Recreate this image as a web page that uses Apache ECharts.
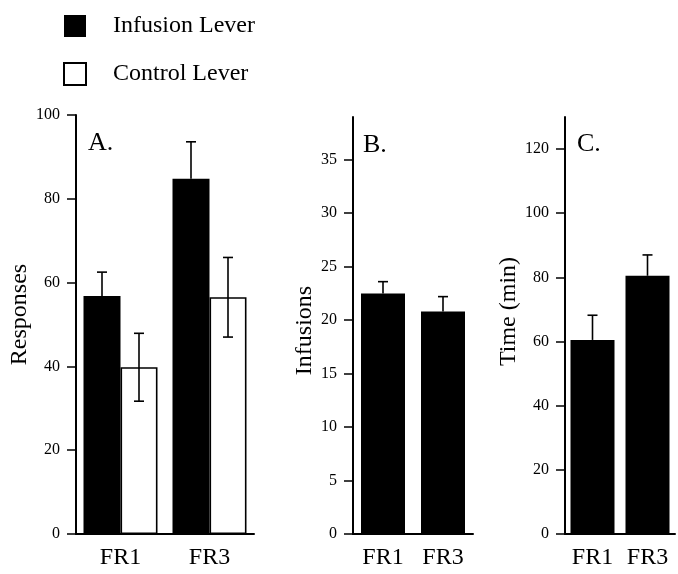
<!DOCTYPE html>
<html>
<head>
<meta charset="utf-8">
<title>Responses, infusions and time</title>
<script src="https://cdn.jsdelivr.net/npm/echarts@6/dist/echarts.min.js"></script>
<style>
  html, body { margin: 0; padding: 0; background: #fff; }
  #chart { width: 678px; height: 574px; }
</style>
</head>
<body>
<div id="chart"></div>
<script>
// categories
const categories = ["FR1", "FR3"];

// panel A: lever responses (mean, SEM)
const respInfusion = [56.8, 84.8];
const respInfusionErr = [5.7, 8.8];
const respControl = [39.8, 56.5];
const respControlErr = [8.1, 9.5];

// panel B: infusions
const infusions = [22.5, 20.8];
const infusionsErr = [1.1, 1.4];

// panel C: time (min)
const timeMin = [60.5, 80.5];
const timeErr = [7.7, 6.5];

// tick labels
const ticksA = [0, 20, 40, 60, 80, 100];
const ticksB = [0, 5, 10, 15, 20, 25, 30, 35];
const ticksC = [0, 20, 40, 60, 80, 100, 120];

const FONT = "Liberation Serif";
const barA = 37;
const barBC = 44;

const chart = echarts.init(document.getElementById("chart"));

// turn value + err arrays into custom series rows
function errRows(vals, errs) {
  return vals.map((v, i) => [i, v, errs[i]]);
}

// error bar: offset in px from category centre, lower half optional
function errorBar(offset, both) {
  return function (params, api) {
    const i = api.value(0);
    const v = api.value(1);
    const e = api.value(2);
    const top = api.coord([i, v + e]);
    const bot = api.coord([i, both ? v - e : v]);
    const x = top[0] + offset;
    const cap = 5;
    const style = { stroke: "#000", lineWidth: 1.6 };
    const kids = [
      { type: "line", shape: { x1: x, y1: top[1], x2: x, y2: bot[1] }, style },
      { type: "line", shape: { x1: x - cap, y1: top[1], x2: x + cap, y2: top[1] }, style },
    ];
    if (both) {
      kids.push({ type: "line", shape: { x1: x - cap, y1: bot[1], x2: x + cap, y2: bot[1] }, style });
    }
    return { type: "group", children: kids };
  };
}

function xAx(idx) {
  return {
    type: "category",
    gridIndex: idx,
    data: categories,
    axisLine: { lineStyle: { color: "#000", width: 2 } },
    axisTick: { alignWithLabel: true, length: 12, lineStyle: { color: "#000", width: 2 } },
    axisLabel: { color: "#000", fontFamily: FONT, fontSize: 24, margin: 12 },
  };
}

function yAx(idx, max, ticks, name, gap, namePad) {
  return {
    type: "value",
    gridIndex: idx,
    min: 0,
    max: max,
    name: name,
    nameLocation: "middle",
    nameGap: gap,
    nameTextStyle: { color: "#000", fontFamily: FONT, fontSize: 24, padding: namePad },
    splitLine: { show: false },
    axisLine: { show: true, lineStyle: { color: "#000", width: 2 } },
    axisTick: { show: true, length: 9, customValues: ticks, lineStyle: { color: "#000", width: 1.5 } },
    axisLabel: { color: "#000", fontFamily: FONT, fontSize: 16, margin: 16, customValues: ticks },
  };
}

const letterStyle = { fontFamily: FONT, fontSize: 26, fontWeight: "normal", color: "#000" };

const option = {
  backgroundColor: "#fff",
  animation: false,
  textStyle: { fontFamily: FONT },
  legend: {
    data: ["Infusion Lever", "Control Lever"],
    orient: "vertical",
    left: 63,
    top: 14,
    padding: 0,
    itemWidth: 22,
    itemHeight: 22,
    itemGap: 24,
    icon: "rect",
    textStyle: { color: "#000", fontFamily: FONT, fontSize: 24, padding: [0, 0, 0, 22] },
  },
  title: [
    { text: "A.", left: 88, top: 130, padding: 0, textStyle: letterStyle },
    { text: "B.", left: 363, top: 132, padding: 0, textStyle: letterStyle },
    { text: "C.", left: 577, top: 131, padding: 0, textStyle: letterStyle },
  ],
  grid: [
    { left: 76, top: 115, width: 178, height: 419 },
    { left: 353, top: 117, width: 120, height: 417 },
    { left: 565, top: 117, width: 110, height: 417 },
  ],
  xAxis: [xAx(0), xAx(1), xAx(2)],
  yAxis: [
    yAx(0, 100, ticksA, "Responses", 44, [0, 0, 0, 20]),
    yAx(1, 39, ticksB, "Infusions", 35, [0, 10, 0, 0]),
    yAx(2, 130, ticksC, "Time (min)", 36, [0, 0, 0, 28]),
  ],
  series: [
    {
      name: "Infusion Lever", type: "bar", xAxisIndex: 0, yAxisIndex: 0,
      data: respInfusion, barWidth: barA, barGap: "0%",
      itemStyle: { color: "#000" },
    },
    {
      name: "Control Lever", type: "bar", xAxisIndex: 0, yAxisIndex: 0,
      data: respControl, barWidth: barA, barGap: "0%",
      itemStyle: { color: "#fff", borderColor: "#000", borderWidth: 1.6 },
    },
    {
      type: "custom", xAxisIndex: 0, yAxisIndex: 0, z: 5,
      data: errRows(respInfusion, respInfusionErr),
      renderItem: errorBar(-barA / 2, false),
    },
    {
      type: "custom", xAxisIndex: 0, yAxisIndex: 0, z: 5,
      data: errRows(respControl, respControlErr),
      renderItem: errorBar(barA / 2, true),
    },
    {
      name: "Infusion Lever", type: "bar", xAxisIndex: 1, yAxisIndex: 1,
      data: infusions, barWidth: barBC, itemStyle: { color: "#000" },
    },
    {
      type: "custom", xAxisIndex: 1, yAxisIndex: 1, z: 5,
      data: errRows(infusions, infusionsErr),
      renderItem: errorBar(0, false),
    },
    {
      name: "Infusion Lever", type: "bar", xAxisIndex: 2, yAxisIndex: 2,
      data: timeMin, barWidth: barBC, itemStyle: { color: "#000" },
    },
    {
      type: "custom", xAxisIndex: 2, yAxisIndex: 2, z: 5,
      data: errRows(timeMin, timeErr),
      renderItem: errorBar(0, false),
    },
  ],
};

chart.setOption(option);
</script>
</body>
</html>
